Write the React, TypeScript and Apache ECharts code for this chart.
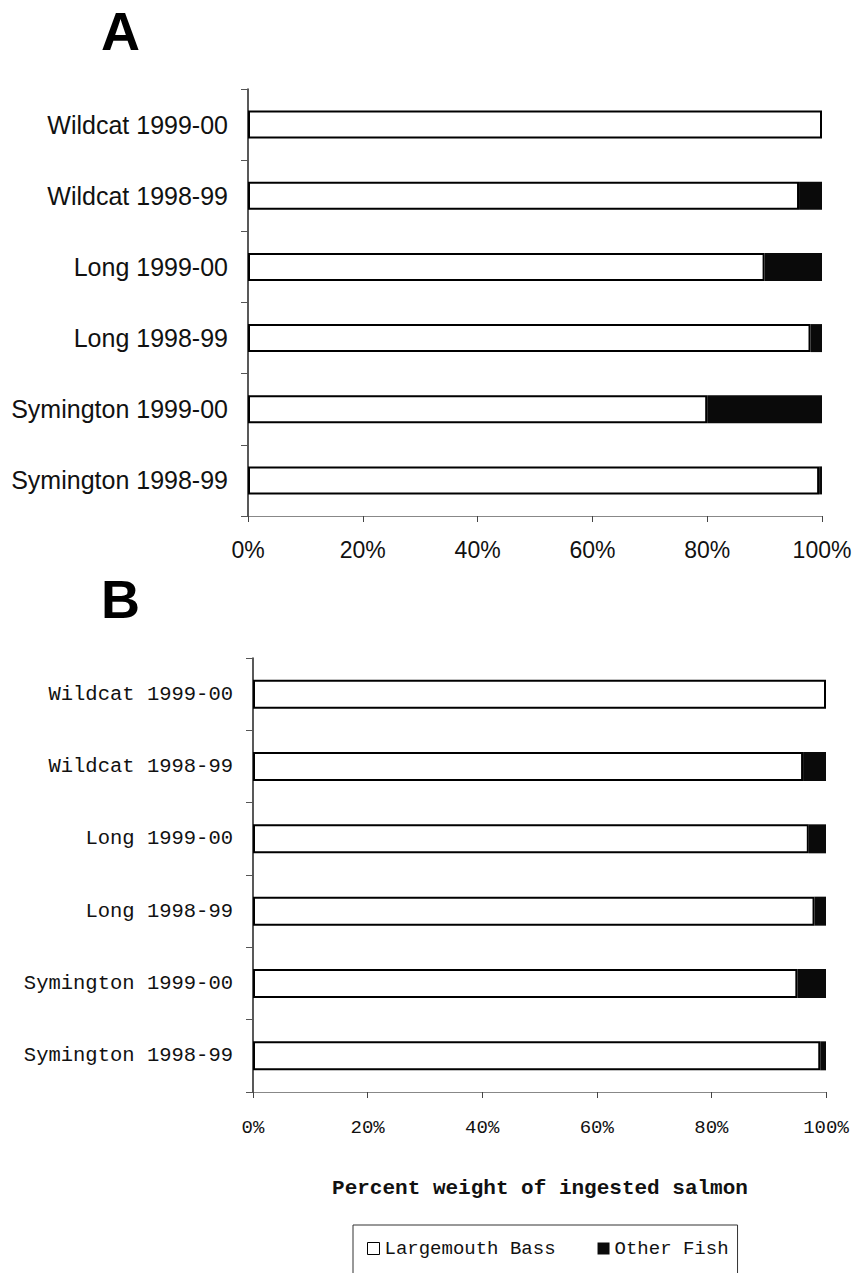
import React, { useEffect, useRef } from "react";
import * as echarts from "echarts";

const categories = [
  "Wildcat 1999-00",
  "Wildcat 1998-99",
  "Long 1999-00",
  "Long 1998-99",
  "Symington 1999-00",
  "Symington 1998-99",
];
const bassA = [100, 96, 90, 98, 80, 99.5];
const otherA = [0, 4, 10, 2, 20, 0.5];
const bassB = [100, 96, 97, 98, 95, 99];
const otherB = [0, 4, 3, 2, 5, 1];
const xTicks = [0, 20, 40, 60, 80, 100];

const SANS = "Liberation Sans, Arial, sans-serif";
const MONO = "Liberation Mono, Courier New, monospace";

export default function App() {
  const ref = useRef<HTMLDivElement>(null);
  useEffect(() => {
    if (!ref.current) return;
    const chart = echarts.init(ref.current, null, { renderer: "svg" });
    const xAxisBase = (font: string, size: number, margin: number) => ({
      type: "value",
      min: xTicks[0],
      max: xTicks[xTicks.length - 1],
      interval: 20,
      splitLine: { show: false },
      axisLine: { show: true, lineStyle: { color: "#888", width: 1 } },
      axisTick: { show: true, length: 6, lineStyle: { color: "#444" } },
      axisLabel: {
        formatter: (v: number) => v + "%",
        fontFamily: font,
        fontSize: size,
        color: "#111",
        margin,
      },
    });
    const yAxisBase = (font: string, size: number) => ({
      type: "category",
      data: categories,
      inverse: true,
      axisLine: { show: true, lineStyle: { color: "#222", width: 1.5 } },
      axisTick: { show: true, length: 7, lineStyle: { color: "#555" } },
      axisLabel: { fontFamily: font, fontSize: size, color: "#111", margin: 20 },
    });
    const bassStyle = { color: "#fff", borderColor: "#000", borderWidth: 2 };
    const otherStyle = { color: "#0a0a0a", borderWidth: 0 };
    chart.setOption({
      animation: false,
      backgroundColor: "#fff",
      graphic: [
        {
          type: "text",
          left: 101,
          top: 4,
          style: { text: "A", fontSize: 54, fontWeight: "bold", fontFamily: SANS, fill: "#000" },
        },
        {
          type: "text",
          left: 101,
          top: 572,
          style: { text: "B", fontSize: 54, fontWeight: "bold", fontFamily: SANS, fill: "#000" },
        },
        {
          type: "text",
          x: 540,
          y: 1188,
          style: {
            text: "Percent weight of ingested salmon",
            fontSize: 21,
            fontWeight: "bold",
            fontFamily: MONO,
            fill: "#111",
            align: "center",
            verticalAlign: "middle",
          },
        },
      ],
      legend: {
        left: 353,
        top: 1225,
        orient: "horizontal",
        padding: [14, 9, 24, 14],
        itemGap: 42,
        itemWidth: 12,
        itemHeight: 12,
        borderColor: "#333",
        borderWidth: 1,
        textStyle: { fontFamily: MONO, fontSize: 19, color: "#111" },
        data: [
          { name: "Largemouth Bass", icon: "rect", itemStyle: { color: "#fff", borderColor: "#000", borderWidth: 1 } },
          { name: "Other Fish", icon: "rect", itemStyle: { color: "#0a0a0a", borderWidth: 0 } },
        ],
      },
      grid: [
        { left: 248, right: 33, top: 89, height: 427 },
        { left: 253, right: 29, top: 658, height: 434 },
      ],
      xAxis: [
        { ...xAxisBase(SANS, 23, 22), gridIndex: 0 },
        { ...xAxisBase(MONO, 19, 26), gridIndex: 1 },
      ],
      yAxis: [
        { ...yAxisBase(SANS, 25), gridIndex: 0 },
        { ...yAxisBase(MONO, 20.5), gridIndex: 1 },
      ],
      series: [
        {
          name: "Largemouth Bass",
          type: "bar",
          stack: "a",
          xAxisIndex: 0,
          yAxisIndex: 0,
          barWidth: 28,
          data: bassA,
          itemStyle: bassStyle,
        },
        {
          name: "Other Fish",
          type: "bar",
          stack: "a",
          xAxisIndex: 0,
          yAxisIndex: 0,
          barWidth: 28,
          data: otherA,
          itemStyle: otherStyle,
        },
        {
          name: "Largemouth Bass",
          type: "bar",
          stack: "b",
          xAxisIndex: 1,
          yAxisIndex: 1,
          barWidth: 29,
          data: bassB,
          itemStyle: bassStyle,
        },
        {
          name: "Other Fish",
          type: "bar",
          stack: "b",
          xAxisIndex: 1,
          yAxisIndex: 1,
          barWidth: 29,
          data: otherB,
          itemStyle: otherStyle,
        },
      ],
    });
    return () => chart.dispose();
  }, []);
  return (
    <div
      ref={ref}
      style={{ position: "absolute", left: 0, top: 0, width: 855, height: 1273, background: "#fff" }}
    />
  );
}
